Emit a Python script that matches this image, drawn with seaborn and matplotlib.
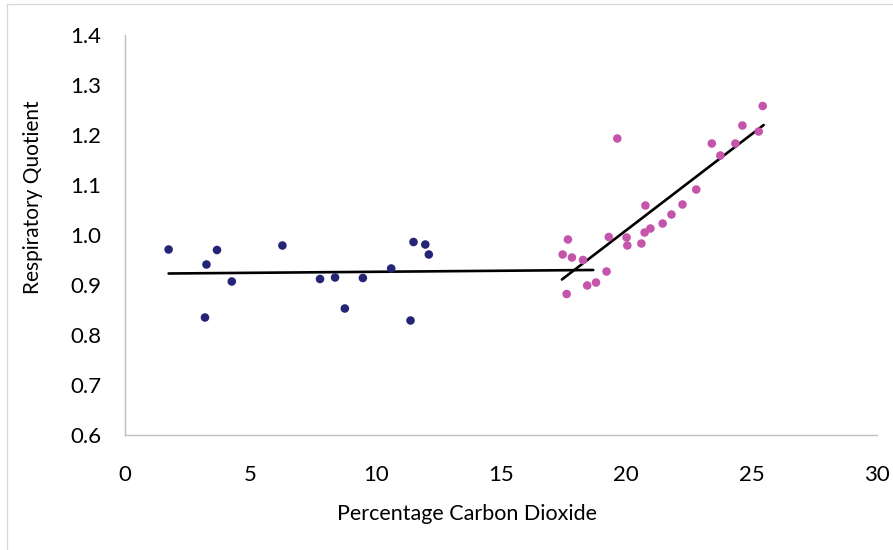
import numpy as np
import pandas as pd
import matplotlib
matplotlib.use("Agg")
import matplotlib.pyplot as plt
from matplotlib.lines import Line2D
import seaborn as sns

# ---- data ----
blue_x = [1.74, 3.25, 3.67, 4.26, 3.19, 6.28, 7.78, 8.38, 8.77, 9.49, 10.62, 11.51, 11.98, 12.12, 11.39]
blue_y = [0.971, 0.941, 0.970, 0.907, 0.835, 0.979, 0.912, 0.915, 0.853, 0.914, 0.933, 0.986, 0.981, 0.961, 0.829]

pink_x = [19.64, 17.67, 17.46, 17.83, 18.27, 17.62, 18.44, 18.79, 19.21, 19.30, 20.01, 20.04, 20.60,
          20.76, 20.73, 20.96, 21.45, 21.80, 22.24, 22.79, 23.41, 23.75, 24.35, 24.63, 25.28, 25.44]
pink_y = [1.193, 0.991, 0.961, 0.955, 0.950, 0.882, 0.899, 0.905, 0.927, 0.996, 0.995, 0.979, 0.983,
          1.059, 1.005, 1.013, 1.023, 1.041, 1.061, 1.091, 1.183, 1.159, 1.183, 1.219, 1.207, 1.258]

trend1_x = [1.74, 18.68]
trend1_y = [0.923, 0.930]
trend2_x = [17.43, 25.48]
trend2_y = [0.911, 1.220]

x_ticks = [0, 5, 10, 15, 20, 25, 30]
y_ticks = [0.6, 0.7, 0.8, 0.9, 1.0, 1.1, 1.2, 1.3, 1.4]

df = pd.DataFrame({
    "x": blue_x + pink_x,
    "y": blue_y + pink_y,
    "group": ["low"] * len(blue_x) + ["high"] * len(pink_x),
})

sns.set_theme(style="white")
plt.rcParams["font.family"] = ["Lato", "DejaVu Sans"]

W, H = 893, 550
fig = plt.figure(figsize=(W / 100, H / 100), dpi=100)
ax = fig.add_axes([125 / W, 1 - 435 / H, (877 - 125) / W, (435 - 35) / H])

sns.scatterplot(data=df, x="x", y="y", hue="group",
                palette={"low": "#252577", "high": "#C455AA"},
                s=38, linewidth=0, legend=False, ax=ax, zorder=3)
sns.lineplot(x=trend1_x, y=trend1_y, color="black", linewidth=1.9, ax=ax, zorder=2)
sns.lineplot(x=trend2_x, y=trend2_y, color="black", linewidth=1.9, ax=ax, zorder=2)

ax.set_xlim(0, 30)
ax.set_ylim(0.6, 1.4)
ax.set_xticks(x_ticks)
ax.set_yticks(y_ticks)
ax.set_xticklabels([str(t) for t in x_ticks])
ax.set_yticklabels([f"{t:.1f}" for t in y_ticks])

for s in ["top", "right"]:
    ax.spines[s].set_visible(False)
for s in ["left", "bottom"]:
    ax.spines[s].set_color("#BFBFBF")
    ax.spines[s].set_linewidth(1.0)

ax.tick_params(axis="both", which="major", direction="out", length=5.8, width=1.0,
               color="#BFBFBF", labelsize=16, labelcolor="black")
ax.tick_params(axis="y", pad=11)
ax.tick_params(axis="x", pad=16)

ax.set_xlabel("Percentage Carbon Dioxide", fontsize=15.5, color="black")
ax.set_ylabel("Respiratory Quotient", fontsize=15, color="black")
ax.xaxis.set_label_coords((467 - 125) / 752, -(514 - 435) / 400)
ax.yaxis.set_label_coords(-(125 - 33) / 752, (435 - 197) / 400)
ax.xaxis.label.set_va("center")
ax.yaxis.label.set_va("center")

# outer chart frame (partially visible)
fc = "#D9D9D9"
fig.add_artist(Line2D([7 / W, 7 / W], [0, 1 - 4 / H], color=fc, linewidth=1.0, transform=fig.transFigure))
fig.add_artist(Line2D([7 / W, 1], [1 - 4 / H, 1 - 4 / H], color=fc, linewidth=1.0, transform=fig.transFigure))

fig.savefig("out.png", dpi=100, facecolor="white")
